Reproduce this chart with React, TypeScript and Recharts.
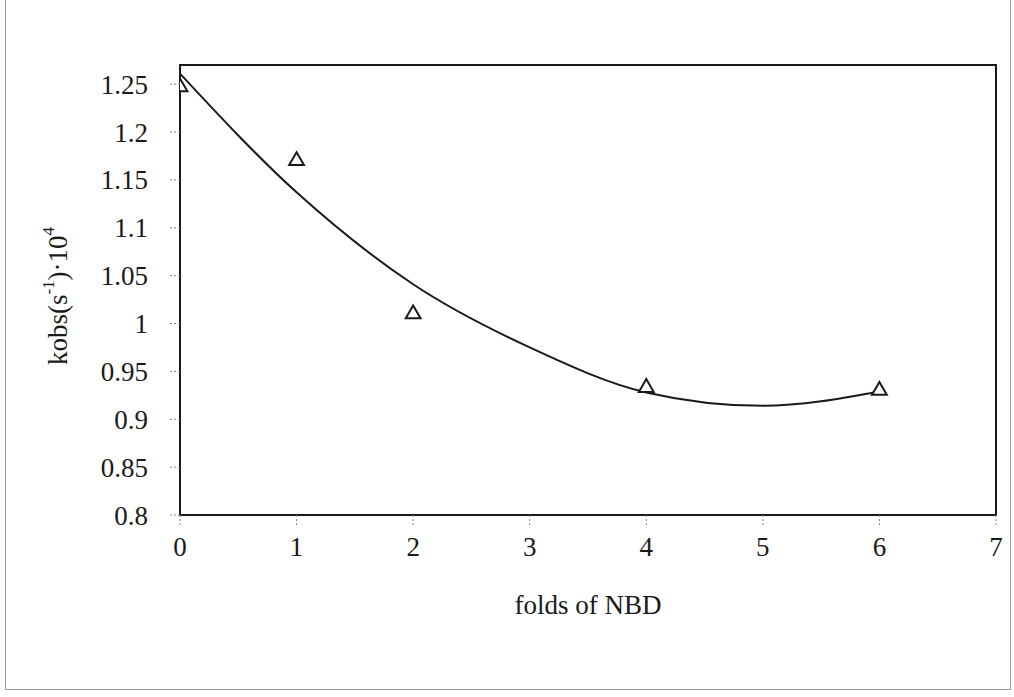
import React from "react";
import { ComposedChart, Line, Scatter, XAxis, YAxis, ZAxis, Label, ReferenceArea } from "recharts";

// measured points (folds of NBD vs kobs·10^4)
const folds = [0, 1, 2, 4, 6];
const kobs = [1.247, 1.17, 1.01, 0.933, 0.93];

// trend curve
const trendX = [0, 1, 2, 3, 4, 5, 6];
const trendY = [1.261, 1.137, 1.041, 0.975, 0.928, 0.914, 0.929];

const xTicks = [0, 1, 2, 3, 4, 5, 6, 7];
const yTicks = [0.8, 0.85, 0.9, 0.95, 1, 1.05, 1.1, 1.15, 1.2, 1.25];

const points = folds.map((x, i) => ({ x, y: kobs[i] }));
const trend = trendX.map((x, i) => ({ x, y: trendY[i] }));

const FONT = "'Liberation Serif', 'Times New Roman', serif";
const INK = "#1a1a1a";

function YTitle(props: any) {
  const vb = props.viewBox || {};
  const cx = 58;
  const cy = vb.y + vb.height / 2 + 6;
  return (
    <text
      x={cx}
      y={cy}
      transform={`rotate(-90, ${cx}, ${cy})`}
      textAnchor="middle"
      dominantBaseline="central"
      fontFamily={FONT}
      fontSize={27}
      fill={INK}
    >
      kobs(s<tspan dy={-10} fontSize={17}>-1</tspan>
      <tspan dy={10}>)·10</tspan>
      <tspan dy={-10} fontSize={17}>4</tspan>
    </text>
  );
}

export default function App() {
  return (
    <div style={{ position: "absolute", left: 0, top: 0, width: 1014, height: 697, background: "#fff" }}>
      <div
        style={{
          position: "absolute",
          left: 5,
          top: 0,
          width: 1004,
          height: 689,
          borderLeft: "1px solid #999",
          borderRight: "1px solid #999",
          borderBottom: "1px solid #999",
        }}
      />
      <ComposedChart
        width={1014}
        height={697}
        margin={{ top: 65, right: 18, left: 20, bottom: 122 }}
        style={{ position: "absolute", left: 0, top: 0 }}
      >
        <XAxis
          dataKey="x"
          type="number"
          domain={[0, 7]}
          ticks={xTicks}
          allowDataOverflow
          height={60}
          axisLine={{ stroke: INK, strokeWidth: 2 }}
          tickLine={{ stroke: "#888", strokeDasharray: "2 2" }}
          tickSize={10}
          tickMargin={12}
          tick={{ fontSize: 27, fontFamily: FONT, fill: INK }}
        >
          <Label
            value="folds of NBD"
            position="bottom"
            offset={20}
            style={{ fontSize: 27, fontFamily: FONT, fill: INK }}
          />
        </XAxis>
        <YAxis
          dataKey="y"
          type="number"
          domain={[0.8, 1.27]}
          ticks={yTicks}
          allowDataOverflow
          width={160}
          axisLine={{ stroke: INK, strokeWidth: 2 }}
          tickLine={{ stroke: "#888", strokeDasharray: "2 2" }}
          tickSize={10}
          tickMargin={22}
          tick={{ fontSize: 27, fontFamily: FONT, fill: INK }}
        >
          <Label content={<YTitle />} />
        </YAxis>
        <ZAxis range={[95, 95]} />
        <ReferenceArea x1={0} x2={7} y1={0.8} y2={1.27} fill="none" stroke={INK} strokeWidth={2} ifOverflow="extendDomain" />
        <Line
          data={trend}
          dataKey="y"
          type="monotone"
          stroke={INK}
          strokeWidth={2}
          dot={false}
          activeDot={false}
          isAnimationActive={false}
        />
        <Scatter
          data={points}
          dataKey="y"
          shape="triangle"
          fill="#fff"
          stroke={INK}
          strokeWidth={2}
          isAnimationActive={false}
        />
      </ComposedChart>
    </div>
  );
}
